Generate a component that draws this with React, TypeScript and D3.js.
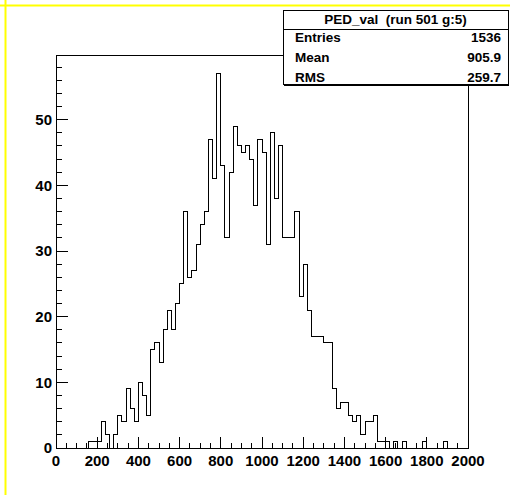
import React from 'react';
import * as d3 from 'd3';

// ---- data ----
const xMin = 0;
const xMax = 2000;
const binWidth = 20;
const counts: number[] = [
  0, 0, 0, 0, 0, 0, 0, 0, 1, 1,
  1, 4, 2, 0, 2, 5, 4, 9, 6, 4,
  10, 8, 5, 15, 16, 13, 18, 21, 18, 22,
  25, 36, 26, 27, 31, 34, 36, 47, 41, 57,
  43, 32, 42, 49, 46, 45, 46, 44, 37, 47,
  45, 31, 48, 38, 46, 32, 32, 32, 36, 23,
  28, 21, 17, 17, 17, 16, 16, 9, 6, 7,
  7, 5, 4, 5, 2, 4, 4, 5, 1, 1,
  1, 0, 1, 0, 1, 0, 0, 0, 0, 1,
  0, 0, 0, 0, 1, 0, 0, 0, 0, 0,
];
const xMajorTicks = [0, 200, 400, 600, 800, 1000, 1200, 1400, 1600, 1800, 2000];
const yMajorTicks = [0, 10, 20, 30, 40, 50];
const statsTitle = 'PED_val  (run 501 g:5)';
const statsLabels = ['Entries', 'Mean', 'RMS'];
const statsValues = ['1536', '905.9', '259.7'];

// ---- layout ----
const W = 510;
const H = 495;
const frame = { left: 56, right: 468, top: 55, bottom: 448 };
const yMax = d3.max(counts)! * 1.05;

export default function App() {
  const x = d3.scaleLinear().domain([xMin, xMax]).range([frame.left, frame.right]);
  const y = d3.scaleLinear().domain([0, yMax]).range([frame.bottom, frame.top]);

  const pts: [number, number][] = [[x(xMin), y(0)]];
  counts.forEach((c, i) => {
    const lo = xMin + i * binWidth;
    pts.push([x(lo), y(c)]);
    pts.push([x(lo + binWidth), y(c)]);
  });
  pts.push([x(xMax), y(0)]);
  const path = d3.line()(pts) || '';

  const xMinor = d3.range(xMin, xMax + 1, 50).filter((v) => v % 200 !== 0);
  const yMinor = d3.range(0, yMax, 2).filter((v) => v % 10 !== 0);

  const font = '"Liberation Sans", Arial, Helvetica, sans-serif';

  const box = { x: 283, y: 10, w: 225, h: 74 };

  return (
    <svg
      width={W}
      height={H}
      style={{ position: 'absolute', left: 0, top: 0, display: 'block' }}
      fontFamily={font}
    >
      <rect x={0} y={0} width={W} height={H} fill="#ffffff" />
      {/* yellow canvas edges */}
      <line x1={0} x2={W} y1={5.5} y2={5.5} stroke="#ffff00" strokeWidth={2} />
      <line x1={5.5} x2={5.5} y1={0} y2={H} stroke="#ffff00" strokeWidth={2} />

      {/* frame */}
      <rect
        x={frame.left}
        y={frame.top}
        width={frame.right - frame.left}
        height={frame.bottom - frame.top}
        fill="none"
        stroke="#000"
        strokeWidth={1}
        shapeRendering="crispEdges"
      />

      {/* x ticks */}
      <g shapeRendering="crispEdges" stroke="#000">
        {xMajorTicks.map((v) => (
          <line key={'xM' + v} x1={x(v)} x2={x(v)} y1={frame.bottom} y2={frame.bottom - 11.5} />
        ))}
        {xMinor.map((v) => (
          <line key={'xm' + v} x1={x(v)} x2={x(v)} y1={frame.bottom} y2={frame.bottom - 5.5} />
        ))}
        {yMajorTicks.map((v) => (
          <line key={'yM' + v} x1={frame.left} x2={frame.left + 12.4} y1={y(v)} y2={y(v)} />
        ))}
        {yMinor.map((v) => (
          <line key={'ym' + v} x1={frame.left} x2={frame.left + 6.2} y1={y(v)} y2={y(v)} />
        ))}
      </g>

      {/* tick labels */}
      <g fontWeight="bold" fontSize={15} fill="#000">
        {xMajorTicks.map((v) => (
          <text key={'xl' + v} x={x(v)} y={466} textAnchor="middle">
            {v}
          </text>
        ))}
        {yMajorTicks.map((v) => (
          <text key={'yl' + v} x={frame.left - 4} y={y(v) + 5.4} textAnchor="end">
            {v}
          </text>
        ))}
      </g>

      {/* histogram */}
      <path d={path} fill="none" stroke="#000" strokeWidth={1} shapeRendering="crispEdges" />

      {/* stats box */}
      <g>
        <rect
          x={box.x}
          y={box.y}
          width={box.w}
          height={box.h}
          fill="#fff"
          stroke="#000"
          strokeWidth={1}
          shapeRendering="crispEdges"
        />
        <line x1={box.x + 1} x2={box.x + box.w + 1} y1={box.y + box.h + 1} y2={box.y + box.h + 1} stroke="#000" strokeWidth={1} shapeRendering="crispEdges" />
        <line x1={box.x} x2={box.x + box.w} y1={29} y2={29} stroke="#000" strokeWidth={1} shapeRendering="crispEdges" />
        <text
          x={box.x + box.w / 2}
          y={24}
          textAnchor="middle"
          fontSize={13.5}
          fontWeight="bold"
          style={{ whiteSpace: 'pre' }}
        >
          {statsTitle}
        </text>
        {statsLabels.map((l, i) => (
          <g key={l}>
            <text x={295} y={42 + i * 20} fontSize={13.5} fontWeight="bold">
              {l}
            </text>
            <text x={501} y={42 + i * 20} fontSize={13.5} fontWeight="bold" textAnchor="end">
              {statsValues[i]}
            </text>
          </g>
        ))}
      </g>
    </svg>
  );
}
